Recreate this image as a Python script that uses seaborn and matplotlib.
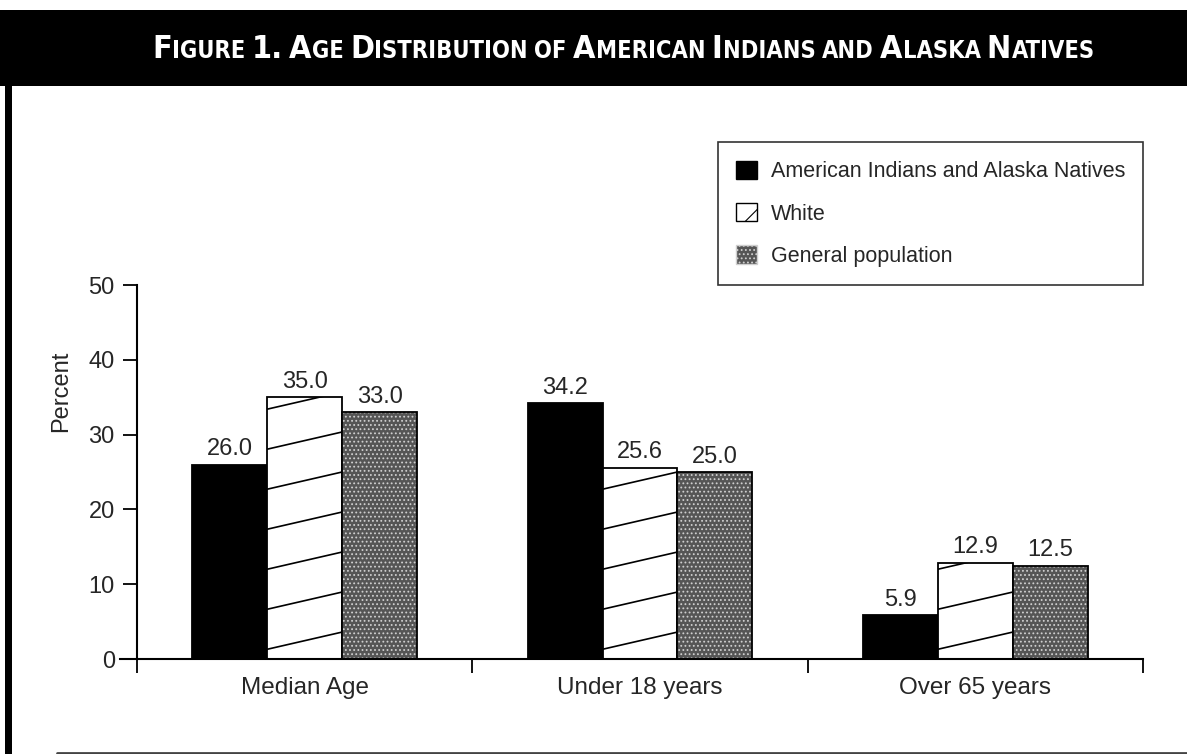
import matplotlib
matplotlib.use("Agg")
import matplotlib.pyplot as plt
from matplotlib import font_manager
from matplotlib.patches import Rectangle, Patch
from matplotlib.lines import Line2D
import pandas as pd
import seaborn as sns

# --- dados ---
categorias = ["Median Age", "Under 18 years", "Over 65 years"]
grupos = ["American Indians and Alaska Natives", "White", "General population"]
valores_aian = [26.0, 34.2, 5.9]
valores_white = [35.0, 25.6, 12.9]
valores_geral = [33.0, 25.0, 12.5]
yticks = [0, 10, 20, 30, 40, 50]

df = pd.DataFrame({
    "categoria": categorias * 3,
    "grupo": [grupos[0]] * 3 + [grupos[1]] * 3 + [grupos[2]] * 3,
    "valor": valores_aian + valores_white + valores_geral,
})

sns.set_style("white")
plt.rcParams["font.family"] = ["Liberation Sans", "DejaVu Sans"]
plt.rcParams["hatch.linewidth"] = 0.8

# fonte condensada para o título, se houver
fontes = font_manager.fontManager.ttflist
nomes = {f.name for f in fontes}
estilo_titulo = dict(family=["Liberation Sans"])
if "Liberation Sans Narrow" in nomes:
    estilo_titulo = dict(family=["Liberation Sans Narrow"])
elif any(f.name == "DejaVu Sans" and f.stretch == "condensed" for f in fontes):
    estilo_titulo = dict(family=["DejaVu Sans"], fontstretch="condensed")

W, H = 1187, 754
fig = plt.figure(figsize=(W / 100, H / 100), dpi=100)
ax = fig.add_axes([137 / W, 1 - 659 / H, (1143 - 137) / W, (659 - 285) / H])

cores = ["black", "white", "#555555"]
sns.barplot(data=df, x="categoria", y="valor", hue="grupo", order=categorias,
            hue_order=grupos, palette=cores, width=0.67, edgecolor="black",
            linewidth=1.3, saturation=1, legend=False, ax=ax)

# barras brancas: linhas diagonais de baixa inclinação
for barra in ax.containers[1]:
    x0, w, h = barra.get_x(), barra.get_width(), barra.get_height()
    yl = 1.3
    while yl < h + 2.5:
        ln = Line2D([x0, x0 + w], [yl, yl + 2.3], color="black", lw=1.2)
        ax.add_line(ln)
        ln.set_clip_path(barra)
        yl += 5.35

# barras cinzas: textura pontilhada
for barra in ax.containers[2]:
    barra.set_hatch("....")
    barra.set_edgecolor("#cfcfcf")
    barra.set_linewidth(0)
    ax.add_patch(Rectangle((barra.get_x(), 0), barra.get_width(), barra.get_height(),
                           fill=False, edgecolor="black", lw=1.3, zorder=barra.get_zorder() + 0.1))

for cont in ax.containers:
    ax.bar_label(cont, fmt="%.1f", padding=3, fontsize=17)

ax.set_xlim(-0.5, 2.5)
ax.set_ylim(0, 50)
ax.set_yticks(yticks)
ax.set_xticks([-0.5, 0.5, 1.5, 2.5], minor=True)
ax.tick_params(axis="y", which="major", length=10, width=1.3, direction="out",
               labelsize=17, pad=6, left=True, color="black")
ax.tick_params(axis="x", which="major", length=0, labelsize=17.5, pad=13)
ax.tick_params(axis="x", which="minor", length=10, width=1.3, direction="out",
               bottom=True, color="black")
ax.set_xlabel("")
ax.set_ylabel("Percent", fontsize=17)
ax.yaxis.set_label_coords(-0.064, 0.717)
sns.despine(ax=ax)
for s in ["left", "bottom"]:
    ax.spines[s].set_linewidth(1.5)
    ax.spines[s].set_color("black")
ax.spines["bottom"].set_bounds(-0.55, 2.5)

# legenda
handles = [
    Patch(facecolor="black", edgecolor="black"),
    Patch(facecolor="white", edgecolor="black", hatch="/"),
    Patch(facecolor="#555555", edgecolor="#cfcfcf", hatch="...."),
]
leg = fig.legend(handles, grupos, loc="lower left", bbox_to_anchor=(718 / W, 1 - 285 / H),
                 fontsize=15.5, frameon=True, fancybox=False, edgecolor="black",
                 handlelength=0.95, handleheight=0.95, handletextpad=0.65,
                 labelspacing=0.95, borderpad=0.85, borderaxespad=0)
leg.get_frame().set_linewidth(1.2)

# faixa do título e moldura (atrás dos eixos)
fig.add_artist(Rectangle((0, 1 - 86 / H), 1, 76 / H, transform=fig.transFigure,
                         facecolor="black", edgecolor="none", zorder=-5))
fig.add_artist(Rectangle((5 / W, 0), 7 / W, 1 - 86 / H, transform=fig.transFigure,
                         facecolor="black", edgecolor="none", zorder=-5))
fig.add_artist(Line2D([57 / W, 1], [1.5 / H, 1.5 / H], transform=fig.transFigure,
                      color="#444444", lw=2, zorder=-5))

# título em versalete
partes = [("F", 1), ("IGURE", 0), ("1.", 1), ("A", 1), ("GE", 0),
          ("D", 1), ("ISTRIBUTION", 0), ("OF", 0), ("A", 1), ("MERICAN", 0),
          ("I", 1), ("NDIANS", 0), ("AND", 0), ("A", 1), ("LASKA", 0),
          ("N", 1), ("ATIVES", 0)]
novas_palavras = {2, 3, 5, 7, 8, 10, 12, 13, 15}
base = H - 58
x_ini, x_fim = 152, 1092


def desenhar_titulo(escala):
    textos = []
    anterior = None
    for i, (txt, grande) in enumerate(partes):
        tam = (26 if grande else 19) * escala
        kw = dict(color="white", fontsize=tam, fontweight="bold", va="baseline",
                  ha="left", annotation_clip=False, **estilo_titulo)
        if anterior is None:
            anterior = ax.annotate(txt, xy=(x_ini, base), xycoords="figure pixels", **kw)
        else:
            gap = 5 * escala if i in novas_palavras else 0.3
            anterior = ax.annotate(txt, xy=(1, base), xycoords=(anterior, "figure pixels"),
                                   xytext=(gap, 0), textcoords="offset points", **kw)
        textos.append(anterior)
    return textos


textos = desenhar_titulo(1.0)
fig.canvas.draw()
largura = textos[-1].get_window_extent().x1 - x_ini
escala = (x_fim - x_ini) / largura
if abs(escala - 1) > 0.01:
    for t in textos:
        t.remove()
    textos = desenhar_titulo(min(escala, 1.15))

fig.savefig("out.png", dpi=100)
